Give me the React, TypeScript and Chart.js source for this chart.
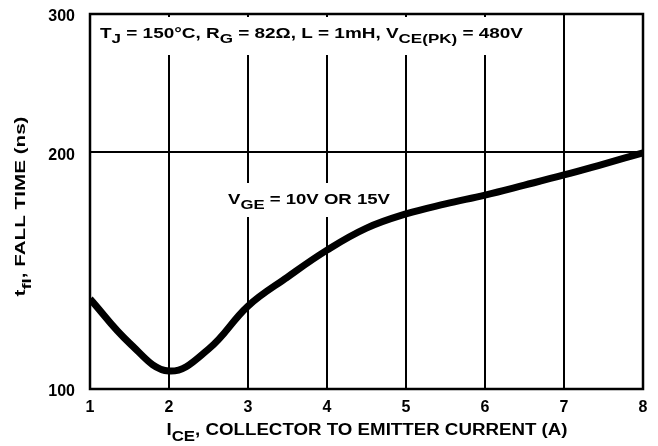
import { useEffect, useRef } from 'react';
import { Chart, registerables } from 'chart.js';

Chart.register(...registerables);

const FONT = '"Liberation Sans", Arial, Helvetica, sans-serif';

// I_CE (A)
const currents = [1, 1.5, 2, 2.5, 3, 3.5, 4, 4.5, 5, 5.5, 6, 6.5, 7, 7.5, 8];
// t_fI fall time (ns)
const fallTimes = [130.2, 114.4, 105.4, 112.4, 127.5, 138.8, 150.2, 160.2, 167.0, 172.0, 176.5, 181.7, 187.2, 193.3, 199.7];
const xTicks = [1, 2, 3, 4, 5, 6, 7, 8];
const yTicks = [100, 200, 300];

type Seg = { t: string; m?: 'sub' };

const topNote: Seg[] = [
  { t: 'T' }, { t: 'J', m: 'sub' }, { t: ' = 150°C, R' }, { t: 'G', m: 'sub' },
  { t: ' = 82Ω, L = 1mH, V' }, { t: 'CE(PK)', m: 'sub' }, { t: ' = 480V' },
];
const curveNote: Seg[] = [{ t: 'V' }, { t: 'GE', m: 'sub' }, { t: ' = 10V OR 15V' }];
const xTitle: Seg[] = [{ t: 'I' }, { t: 'CE', m: 'sub' }, { t: ', COLLECTOR TO EMITTER CURRENT (A)' }];
const yTitle: Seg[] = [{ t: 't' }, { t: 'fI', m: 'sub' }, { t: ', FALL TIME (ns)' }];

function segFont(s: Seg, size: number) {
  const fs = s.m === 'sub' ? size * 0.9 : size;
  return `bold ${fs}px ${FONT}`;
}

function measureRich(ctx: CanvasRenderingContext2D, segs: Seg[], size: number) {
  let w = 0;
  for (const s of segs) {
    ctx.font = segFont(s, size);
    w += ctx.measureText(s.t).width;
  }
  return w;
}

function drawRich(ctx: CanvasRenderingContext2D, segs: Seg[], x: number, y: number, size: number) {
  let cx = x;
  ctx.textAlign = 'left';
  ctx.textBaseline = 'alphabetic';
  for (const s of segs) {
    ctx.font = segFont(s, size);
    const dy = s.m === 'sub' ? size * 0.38 : 0;
    ctx.fillText(s.t, cx, y + dy);
    cx += ctx.measureText(s.t).width;
  }
}

// draw rich text stretched horizontally to a given width (the reference uses a wide face)
function drawRichFit(ctx: CanvasRenderingContext2D, segs: Seg[], x: number, y: number, size: number, width: number) {
  const w = measureRich(ctx, segs, size);
  ctx.save();
  ctx.translate(x, y);
  ctx.scale(width / w, 1);
  drawRich(ctx, segs, 0, 0, size);
  ctx.restore();
}

const decorations = {
  id: 'decorations',
  beforeDatasetsDraw(chart: any) {
    const { ctx, chartArea: a } = chart;
    ctx.save();
    ctx.fillStyle = '#fff';
    ctx.fillRect(a.left + 5, a.top + 3, 442, 38);
    ctx.fillRect(a.left + 132, a.top + 169, 174, 34);
    ctx.fillStyle = '#000';
    drawRichFit(ctx, topNote, a.left + 10, a.top + 24, 14, 423);
    drawRichFit(ctx, curveNote, a.left + 138, a.top + 190, 14, 162);
    ctx.restore();
  },
  afterDatasetsDraw(chart: any) {
    const { ctx, chartArea: a } = chart;
    ctx.save();
    ctx.strokeStyle = '#000';
    ctx.lineWidth = 2.5;
    ctx.strokeRect(a.left, a.top, a.right - a.left, a.bottom - a.top);
    ctx.restore();
  },
  afterDraw(chart: any) {
    const { ctx, chartArea: a } = chart;
    ctx.save();
    ctx.fillStyle = '#000';
    drawRichFit(ctx, xTitle, (a.left + a.right) / 2 - 200, a.bottom + 46, 16, 401);
    ctx.translate(25, (a.top + a.bottom) / 2 + 5);
    ctx.rotate(-Math.PI / 2);
    drawRichFit(ctx, yTitle, -90, 0, 15, 180);
    ctx.restore();
  },
};

export default function App() {
  const ref = useRef<HTMLCanvasElement | null>(null);

  useEffect(() => {
    document.body.style.margin = '0';
    const canvas = ref.current!;
    const chart = new Chart(canvas, {
      type: 'line',
      data: {
        datasets: [
          {
            data: currents.map((x, i) => ({ x, y: fallTimes[i] })),
            borderColor: '#000',
            borderWidth: 7,
            pointRadius: 0,
            tension: 0.4,
            fill: false,
          },
        ],
      },
      options: {
        animation: false,
        responsive: false,
        maintainAspectRatio: false,
        layout: { padding: { left: 0, right: 15, top: 14, bottom: 0 } },
        plugins: { legend: { display: false }, tooltip: { enabled: false } },
        scales: {
          x: {
            type: 'linear',
            min: 1,
            max: 8,
            afterBuildTicks: (axis: any) => {
              axis.ticks = xTicks.map((v) => ({ value: v }));
            },
            afterFit: (scale: any) => {
              scale.height = 57;
            },
            grid: { color: '#000', lineWidth: 2, drawTicks: true, tickLength: 9, tickColor: 'rgba(0,0,0,0)' },
            border: { display: false },
            ticks: {
              color: '#000',
              padding: 0,
              font: { family: FONT, size: 16, weight: 'bold' },
              callback: (v: any) => String(v),
            },
          },
          y: {
            type: 'logarithmic',
            min: 100,
            max: 300,
            afterBuildTicks: (axis: any) => {
              axis.ticks = yTicks.map((v) => ({ value: v }));
            },
            afterFit: (scale: any) => {
              scale.width = 90;
            },
            grid: { color: '#000', lineWidth: 2, drawTicks: true, tickLength: 15, tickColor: 'rgba(0,0,0,0)' },
            border: { display: false },
            ticks: {
              color: '#000',
              padding: 0,
              labelOffset: 3,
              font: { family: FONT, size: 16, weight: 'bold' },
              callback: (v: any) => String(v),
            },
          },
        },
      },
      plugins: [decorations],
    } as any);
    return () => chart.destroy();
  }, []);

  return <canvas ref={ref} width={658} height={446} style={{ display: 'block' }} />;
}
